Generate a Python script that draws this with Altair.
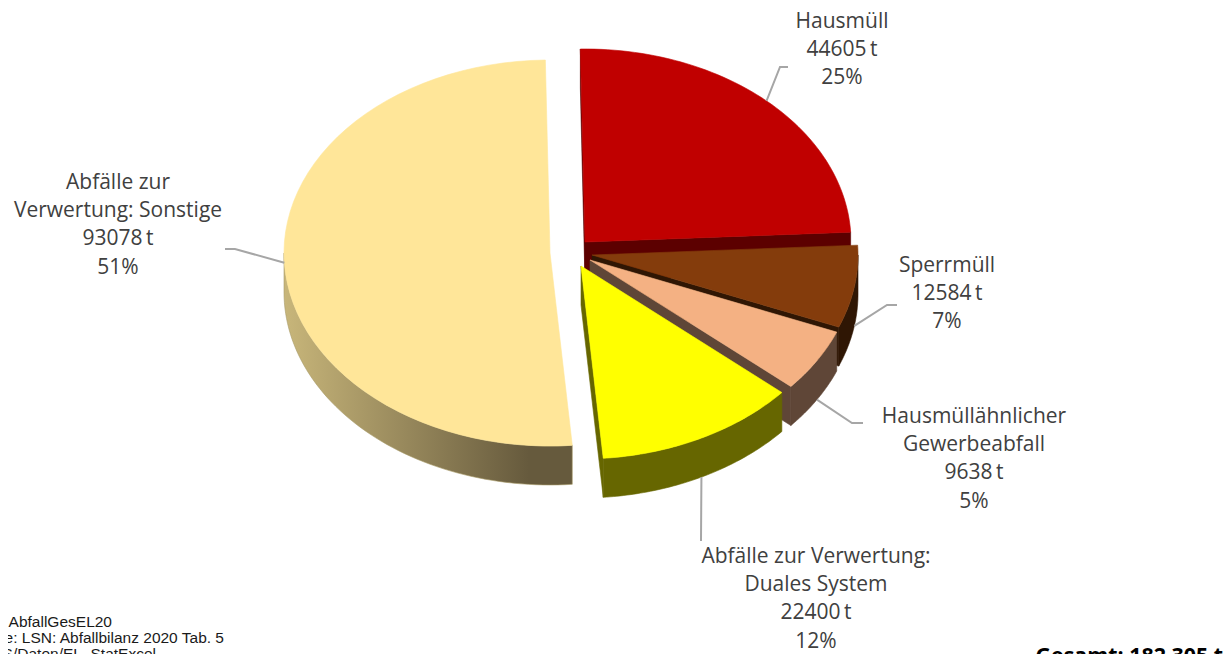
import math
import altair as alt
import pandas as pd

# ---- chart values -------------------------------------------------------
categories = ["Hausmüll", "Sperrmüll", "Hausmüllähnlicher Gewerbeabfall",
              "Abfälle zur Verwertung: Duales System", "Abfälle zur Verwertung: Sonstige"]
tonnes = [44605, 12584, 9638, 22400, 93078]
percent = ["25%", "7%", "5%", "12%", "51%"]
label_lines = [["Hausmüll"], ["Sperrmüll"], ["Hausmüllähnlicher", "Gewerbeabfall"],
               ["Abfälle zur Verwertung:", "Duales System"],
               ["Abfälle zur", "Verwertung: Sonstige"]]
top_colors = ["#C00000", "#843C0C", "#F4B183", "#FFFF00", "#FFE699"]
wall_colors = ["#5C0000", "#2F1604", "#5F4637", "#666600", "#C8B67A"]
foot_lines = ["i: AbfallGesEL20", "le: LSN: Abfallbilanz 2020 Tab. 5", "AS/Daten/EL_StatExcel"]
total_text = "Gesamt: 182 305 t"

# ---- layout (pixel geometry of the tilted pie) ---------------------------
W, H = 1215, 646
OFF = 8
RX, RY, DEPTH = 266, 193, 39
START = -1.0
apex = [(585, 242), (592, 255), (590, 260), (581, 266), (550, 253)]
label_pos = [(842, 22), (947, 266), (974, 417), (816, 557), (118, 183)]
leader_bend = [((780, 67), (788, 67)), ((887, 305), (897, 305)), ((852, 423), (863, 423)),
               ((701, 540), (701, 541)), ((235, 249), (225, 249))]
leader_depth = [0, DEPTH, DEPTH, DEPTH, 0]
LINE = 28.2

x_scale = alt.Scale(domain=[OFF, OFF + W], range=[0, W])
y_scale = alt.Scale(domain=[OFF, OFF + H], range=[0, H])


def rim(c, deg):
    t = math.radians(deg)
    return (c[0] + RX * math.sin(t), c[1] - RY * math.cos(t))


def sweep(c, a, b, n=60):
    return [rim(c, a + (b - a) * i / n) for i in range(n + 1)]


def down(points):
    return [(x, y + DEPTH) for x, y in points]


def poly(points, fill, stroke=None):
    pts = list(points) + [points[0]]
    df = pd.DataFrame({"x": [p[0] for p in pts], "y": [p[1] for p in pts], "i": range(len(pts))})
    return alt.Chart(df).mark_line(
        fill=fill, stroke=stroke or fill, strokeWidth=0.6, interpolate="linear"
    ).encode(
        x=alt.X("x:Q", scale=x_scale, axis=None),
        y=alt.Y("y:Q", scale=y_scale, axis=None),
        order="i:Q",
    )


total = sum(tonnes)
edges = [START]
for v in tonnes:
    edges.append(edges[-1] + 360 * v / total)

layers = []
side_gradient = alt.Gradient(
    gradient="linear", x1=0, x2=1, y1=0, y2=0,
    stops=[alt.GradientStop(offset=0, color=wall_colors[4]),
           alt.GradientStop(offset=0.85, color="#665A3D"),
           alt.GradientStop(offset=1, color="#665A3D")],
)

for k in range(5):
    c, a, b = apex[k], edges[k], edges[k + 1]
    top = [c] + sweep(c, a, b)
    if k == 4:
        wall_arc = sweep(c, a, 270)
        layers.append(poly(wall_arc + down(wall_arc)[::-1], side_gradient, "#A89A68"))
    else:
        # wall at the start edge of the first slice (thin strip on its left)
        if k == 0:
            s = rim(c, a)
            layers.append(poly([s, c, (c[0], c[1] + DEPTH), (s[0], s[1] + DEPTH)], wall_colors[k]))
        e = rim(c, b)
        layers.append(poly([c, e, (e[0], e[1] + DEPTH), (c[0], c[1] + DEPTH)], wall_colors[k]))
        lo, hi = max(a, 90), b
        if hi > lo:
            wall_arc = sweep(c, lo, hi)
            layers.append(poly(wall_arc + down(wall_arc)[::-1], wall_colors[k]))
    layers.append(poly(top, top_colors[k]))

# leader lines start on the middle of each slice's rim
for k in range(5):
    mid = (edges[k] + edges[k + 1]) / 2
    sx, sy = rim(apex[k], mid)
    pts = [(sx, sy + leader_depth[k]), leader_bend[k][0], leader_bend[k][1]]
    df = pd.DataFrame({"x": [p[0] for p in pts], "y": [p[1] for p in pts], "i": range(3)})
    layers.append(alt.Chart(df).mark_line(stroke="#A6A6A6", strokeWidth=2).encode(
        x=alt.X("x:Q", scale=x_scale, axis=None),
        y=alt.Y("y:Q", scale=y_scale, axis=None),
        order="i:Q",
    ))

# data labels
rows = []
for k in range(5):
    lines = label_lines[k] + [f"{tonnes[k]}\u2009t", percent[k]]
    for j, t in enumerate(lines):
        rows.append({"x": label_pos[k][0], "y": label_pos[k][1] + j * LINE, "t": t})
layers.append(alt.Chart(pd.DataFrame(rows)).mark_text(
    font="Open Sans", fontSize=21, color="#404040", align="center", baseline="middle"
).encode(
    x=alt.X("x:Q", scale=x_scale, axis=None),
    y=alt.Y("y:Q", scale=y_scale, axis=None),
    text="t:N",
))

# footnote, cut off by the picture's edge
foot = pd.DataFrame({"x": [112, 224, 156], "y": [627, 643, 659], "t": foot_lines})
layers.append(alt.Chart(foot).mark_text(
    font="Liberation Sans", fontSize=15.5, color="#1A1A1A", align="right", baseline="alphabetic"
).encode(
    x=alt.X("x:Q", scale=x_scale, axis=None),
    y=alt.Y("y:Q", scale=y_scale, axis=None),
    text="t:N",
))

tot = pd.DataFrame({"x": [1223], "y": [663], "t": [total_text]})
layers.append(alt.Chart(tot).mark_text(
    font="Open Sans", fontSize=21.4, fontWeight="bold", color="#000000", align="right", baseline="alphabetic"
).encode(
    x=alt.X("x:Q", scale=x_scale, axis=None),
    y=alt.Y("y:Q", scale=y_scale, axis=None),
    text="t:N",
))

chart = alt.layer(*layers).properties(
    width=W, height=H, padding=0, autosize=alt.AutoSizeParams(type="none")
).configure_view(stroke=None)

chart.save("out.html", embed_options={"renderer": "svg", "actions": False})
